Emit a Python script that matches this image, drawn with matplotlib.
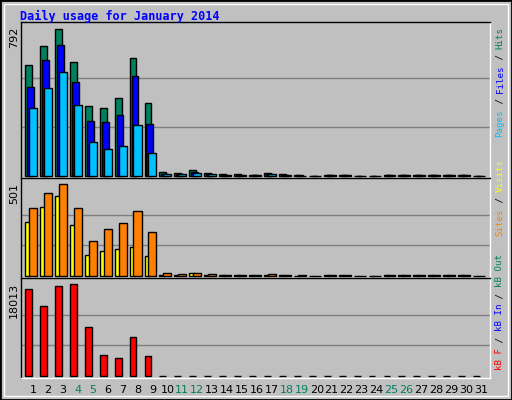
import matplotlib
matplotlib.use("Agg")
import matplotlib.pyplot as plt
from matplotlib.patches import Rectangle
import numpy as np

days = list(range(1, 32))
weekend = [4, 5, 11, 12, 18, 19, 25, 26]
hits  = [598,700,792,614,377,366,420,636,393,20,15,30,15,10,10,5,15,10,5,0,5,5,0,0,5,5,5,5,8,5,0]
files = [480,625,705,506,296,291,329,539,280,12,12,22,12,8,8,4,12,6,3,0,4,4,0,0,4,4,4,4,6,4,0]
pages = [366,474,560,383,183,145,162,275,124,10,10,18,10,6,6,3,10,5,2,0,3,3,0,0,3,3,3,3,5,3,0]
visits = [294,376,436,278,114,136,147,158,109,8,8,14,8,5,5,3,8,5,2,0,3,3,0,0,3,3,3,3,4,3,0]
sites  = [370,452,501,370,191,256,289,354,240,15,12,18,12,8,8,5,12,6,3,0,5,5,0,0,4,4,4,4,6,4,0]
kbf = [17033,13700,17620,18013,9594,4112,3524,7636,3916] + [0]*22
max_hits, max_visits, max_kb = 792, 501, 18013

BG = "#C0C0C0"
GREEN = "#00805C"
fig = plt.figure(figsize=(5.12, 4.0), dpi=100, facecolor=BG)
fig.patches.append(Rectangle((0, 0), 1, 1, transform=fig.transFigure, fill=False,
                             edgecolor="black", linewidth=2))
fig.patches.append(Rectangle((4/512, 4/400), 504/512, 392/400, transform=fig.transFigure,
                             fill=False, edgecolor="white", linewidth=1))

def px_axes(top, bot):
    return fig.add_axes([21/512, 1 - bot/400, 469/512, (bot - top)/400], facecolor=BG)

x = np.array(days)
ax1 = px_axes(22, 178)
ax2 = px_axes(178, 278)
ax3 = px_axes(278, 378)
kw = dict(edgecolor="black", linewidth=1, align="edge")
ax1.bar(x - 0.53, hits, width=0.46, color=GREEN, **kw)
ax1.bar(x - 0.40, files, width=0.46, color="#0000FF", **kw)
ax1.bar(x - 0.27, pages, width=0.54, color="#00C0FF", **kw)
u = max_hits / 147
ax1.set_ylim(-2*u, max_hits + 7*u)
ax2.bar(x - 0.53, visits, width=0.36, color="#FFFF00", **kw)
ax2.bar(x - 0.27, sites, width=0.54, color="#FF8000", **kw)
u = max_visits / 92
ax2.set_ylim(-2*u, max_visits + 6*u)
ax3.bar(x - 0.53, kbf, width=0.46, color="#FF0000", **kw)
u = max_kb / 92
ax3.set_ylim(-2*u, max_kb + 6*u)

for ax, m in [(ax1, max_hits), (ax2, max_visits), (ax3, max_kb)]:
    ax.set_xlim(0.2, 31.6)
    for g in (m/3, 2*m/3):
        ax.axhline(g, color="#808080", linewidth=1, zorder=0)
    ax.set_yticks([])
    for s in ax.spines.values():
        s.set_color("black"); s.set_linewidth(1)
    ax.spines["bottom"].set_color("white")
    ax.spines["right"].set_color("white")
    ax.tick_params(axis="x", length=0)
    ax.set_xticks([])
    ax.text(-7/469, 1 - 5/ax.bbox.height, str(m), transform=ax.transAxes, rotation=90,
            ha="center", va="top", fontsize=8, family="DejaVu Sans")

ax3.set_xticks(days)
ax3.set_xticklabels([str(d) for d in days], fontsize=8)
for lbl, d in zip(ax3.get_xticklabels(), days):
    lbl.set_color(GREEN if d in weekend else "black")
ax3.tick_params(axis="x", pad=5)

fig.text(20/512, 1 - 16/400, "Daily usage for January 2014", color="#0000FF",
         fontsize=8.5, family="DejaVu Sans Mono", fontweight="bold", va="center", ha="left")

def vlabel(ybottom_px, pieces, fs=6.6):
    adv = 0.602 * fs * 100 / 72
    y = ybottom_px
    for txt, col in pieces:
        fig.text(500/512, 1 - y/400, txt, color=col, rotation=90, fontsize=fs,
                 family="DejaVu Sans Mono", ha="center", va="bottom")
        y -= adv * len(txt)

vlabel(137, [("Pages", "#00C0FF"), (" / ", "black"), ("Files", "#0000FF"),
             (" / ", "black"), ("Hits", GREEN)])
vlabel(236, [("Sites", "#FF8000"), (" / ", "black"), ("Visits", "#FFFF00")])
vlabel(370, [("kB F", "#FF0000"), (" / ", "black"), ("kB In", "#0000FF"),
             (" / ", "black"), ("kB Out", GREEN)])

fig.savefig("out.png", dpi=100, facecolor=BG)
